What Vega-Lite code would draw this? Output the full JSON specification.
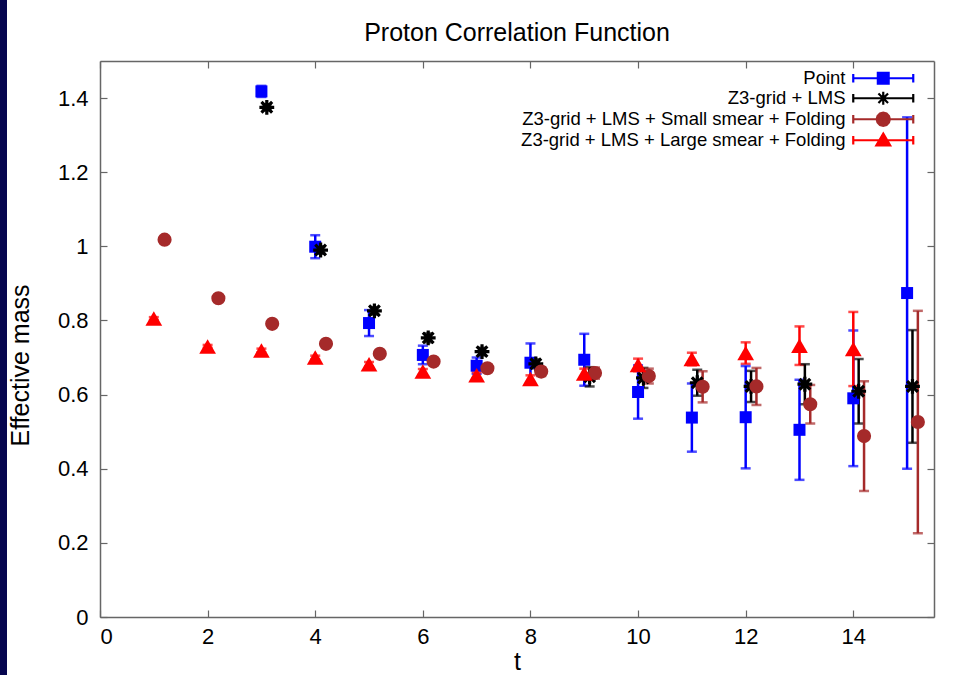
{
  "$schema": "https://vega.github.io/schema/vega-lite/v6.json",
  "width": 834,
  "height": 556,
  "autosize": {"type": "none"},
  "padding": {"left": 100, "top": 61, "right": 19, "bottom": 58},
  "background": "#06064f",
  "title": {"text": "Proton Correlation Function", "fontSize": 25, "font": "Liberation Sans", "fontWeight": "normal", "color": "black", "offset": 14, "anchor": "middle"},
  "data": {"values": [
    {"series": "Point", "t": 3, "m": 1.418, "e": 0.015},
    {"series": "Point", "t": 4, "m": 0.999, "e": 0.031},
    {"series": "Point", "t": 5, "m": 0.793, "e": 0.035},
    {"series": "Point", "t": 6, "m": 0.707, "e": 0.025},
    {"series": "Point", "t": 7, "m": 0.678, "e": 0.022},
    {"series": "Point", "t": 8, "m": 0.686, "e": 0.052},
    {"series": "Point", "t": 9, "m": 0.694, "e": 0.07},
    {"series": "Point", "t": 10, "m": 0.607, "e": 0.072},
    {"series": "Point", "t": 11, "m": 0.538, "e": 0.092},
    {"series": "Point", "t": 12, "m": 0.539, "e": 0.138},
    {"series": "Point", "t": 13, "m": 0.505, "e": 0.135},
    {"series": "Point", "t": 14, "m": 0.59, "e": 0.183},
    {"series": "Point", "t": 15, "m": 0.874, "e": 0.474},
    {"series": "Z3-grid + LMS", "t": 3.1, "m": 1.375, "e": 0.008},
    {"series": "Z3-grid + LMS", "t": 4.1, "m": 0.99, "e": 0.01},
    {"series": "Z3-grid + LMS", "t": 5.1, "m": 0.826, "e": 0.01},
    {"series": "Z3-grid + LMS", "t": 6.1, "m": 0.753, "e": 0.012},
    {"series": "Z3-grid + LMS", "t": 7.1, "m": 0.716, "e": 0.01},
    {"series": "Z3-grid + LMS", "t": 8.1, "m": 0.683, "e": 0.012},
    {"series": "Z3-grid + LMS", "t": 9.1, "m": 0.648, "e": 0.026},
    {"series": "Z3-grid + LMS", "t": 10.1, "m": 0.645, "e": 0.027},
    {"series": "Z3-grid + LMS", "t": 11.1, "m": 0.632, "e": 0.035},
    {"series": "Z3-grid + LMS", "t": 12.1, "m": 0.622, "e": 0.042},
    {"series": "Z3-grid + LMS", "t": 13.1, "m": 0.628, "e": 0.054},
    {"series": "Z3-grid + LMS", "t": 14.1, "m": 0.609, "e": 0.087},
    {"series": "Z3-grid + LMS", "t": 15.1, "m": 0.622, "e": 0.152},
    {"series": "Z3-grid + LMS + Small smear + Folding", "t": 1.2, "m": 1.018, "e": 0.005},
    {"series": "Z3-grid + LMS + Small smear + Folding", "t": 2.2, "m": 0.86, "e": 0.005},
    {"series": "Z3-grid + LMS + Small smear + Folding", "t": 3.2, "m": 0.791, "e": 0.005},
    {"series": "Z3-grid + LMS + Small smear + Folding", "t": 4.2, "m": 0.737, "e": 0.006},
    {"series": "Z3-grid + LMS + Small smear + Folding", "t": 5.2, "m": 0.71, "e": 0.007},
    {"series": "Z3-grid + LMS + Small smear + Folding", "t": 6.2, "m": 0.689, "e": 0.008},
    {"series": "Z3-grid + LMS + Small smear + Folding", "t": 7.2, "m": 0.671, "e": 0.01},
    {"series": "Z3-grid + LMS + Small smear + Folding", "t": 8.2, "m": 0.662, "e": 0.012},
    {"series": "Z3-grid + LMS + Small smear + Folding", "t": 9.2, "m": 0.658, "e": 0.015},
    {"series": "Z3-grid + LMS + Small smear + Folding", "t": 10.2, "m": 0.65, "e": 0.02},
    {"series": "Z3-grid + LMS + Small smear + Folding", "t": 11.2, "m": 0.621, "e": 0.042},
    {"series": "Z3-grid + LMS + Small smear + Folding", "t": 12.2, "m": 0.622, "e": 0.05},
    {"series": "Z3-grid + LMS + Small smear + Folding", "t": 13.2, "m": 0.574, "e": 0.052},
    {"series": "Z3-grid + LMS + Small smear + Folding", "t": 14.2, "m": 0.488, "e": 0.148},
    {"series": "Z3-grid + LMS + Small smear + Folding", "t": 15.2, "m": 0.526, "e": 0.3},
    {"series": "Z3-grid + LMS + Large smear + Folding", "t": 1, "m": 0.805, "e": 0.004},
    {"series": "Z3-grid + LMS + Large smear + Folding", "t": 2, "m": 0.73, "e": 0.004},
    {"series": "Z3-grid + LMS + Large smear + Folding", "t": 3, "m": 0.719, "e": 0.005},
    {"series": "Z3-grid + LMS + Large smear + Folding", "t": 4, "m": 0.7, "e": 0.005},
    {"series": "Z3-grid + LMS + Large smear + Folding", "t": 5, "m": 0.682, "e": 0.006},
    {"series": "Z3-grid + LMS + Large smear + Folding", "t": 6, "m": 0.662, "e": 0.007},
    {"series": "Z3-grid + LMS + Large smear + Folding", "t": 7, "m": 0.652, "e": 0.008},
    {"series": "Z3-grid + LMS + Large smear + Folding", "t": 8, "m": 0.642, "e": 0.01},
    {"series": "Z3-grid + LMS + Large smear + Folding", "t": 9, "m": 0.657, "e": 0.013},
    {"series": "Z3-grid + LMS + Large smear + Folding", "t": 10, "m": 0.68, "e": 0.017},
    {"series": "Z3-grid + LMS + Large smear + Folding", "t": 11, "m": 0.696, "e": 0.017},
    {"series": "Z3-grid + LMS + Large smear + Folding", "t": 12, "m": 0.712, "e": 0.029},
    {"series": "Z3-grid + LMS + Large smear + Folding", "t": 13, "m": 0.732, "e": 0.052},
    {"series": "Z3-grid + LMS + Large smear + Folding", "t": 14, "m": 0.723, "e": 0.1}
  ]},
  "layer": [
    {
      "mark": {"type": "errorbar", "ticks": {"size": 10}, "thickness": 2.5},
      "encoding": {
        "x": {"field": "t", "type": "quantitative", "scale": {"domain": [0, 15.5], "nice": false, "zero": false},
              "axis": {"orient": "bottom", "values": [0, 2, 4, 6, 8, 10, 12, 14], "tickSize": -7, "labelPadding": 16, "labelFontSize": 22, "title": "t", "titleFontSize": 25, "titleFontWeight": "normal", "titlePadding": 2}},
        "y": {"field": "m", "type": "quantitative", "scale": {"domain": [0, 1.5], "nice": false},
              "axis": {"orient": "left", "values": [0, 0.2, 0.4, 0.6, 0.8, 1, 1.2, 1.4], "format": "~g", "tickSize": -7, "labelPadding": 19, "labelFontSize": 22, "title": "Effective mass", "titleFontSize": 25, "titleFontWeight": "normal", "titlePadding": 24, "titleY": 304}},
        "yError": {"field": "e"},
        "color": {"field": "series", "type": "nominal",
                  "scale": {"domain": ["Point", "Z3-grid + LMS", "Z3-grid + LMS + Small smear + Folding", "Z3-grid + LMS + Large smear + Folding"], "range": ["#0000ff", "#000000", "#a52a2a", "#ff0000"]},
                  "legend": {
                    "title": null, "orient": "none", "legendX": 774, "legendY": 8, "labelAlign": "right", "labelOffset": -47,
                    "labelFontSize": 18.5, "labelLimit": 0, "symbolSize": 144, "rowPadding": -3.5,
                    "encode": {"symbols": {"update": {
                      "shape": {"signal": "datum.value === 'Point' ? 'M-5,0H5M-5,-0.7V0.7M5,-0.7V0.7M-0.9,-0.9H0.9V0.9H-0.9Z' : datum.value === 'Z3-grid + LMS' ? 'M-5,0H5M-5,-0.7V0.7M5,-0.7V0.7M-1.1,0H1.1M0,-1.1V1.1M-0.8,-0.8L0.8,0.8M-0.8,0.8L0.8,-0.8' : datum.value === 'Z3-grid + LMS + Small smear + Folding' ? 'M-5,0H5M-5,-0.7V0.7M5,-0.7V0.7M1.1,0L0.953,0.55L0.55,0.953L0,1.1L-0.55,0.953L-0.953,0.55L-1.1,0L-0.953,-0.55L-0.55,-0.953L0,-1.1L0.55,-0.953L0.953,-0.55Z' : 'M-5,0H5M-5,-0.7V0.7M5,-0.7V0.7M0,-1.1L1.15,0.85H-1.15Z'"},
                      "fill": {"signal": "scale('color', datum.value)"},
                      "stroke": {"signal": "scale('color', datum.value)"},
                      "strokeWidth": {"value": 2.2},
                      "size": {"value": 144},
                      "opacity": {"value": 1}
                    }}}
                  }}
      }
    },
    {
      "transform": [{"filter": "datum.series === 'Point'"}],
      "mark": {"type": "point", "shape": "square", "filled": true, "size": 144, "opacity": 1},
      "encoding": {
        "x": {"field": "t", "type": "quantitative", "axis": {"orient": "top", "values": [0, 2, 4, 6, 8, 10, 12, 14], "tickSize": -7, "labels": false, "title": null}},
        "y": {"field": "m", "type": "quantitative", "axis": {"orient": "right", "values": [0, 0.2, 0.4, 0.6, 0.8, 1, 1.2, 1.4], "tickSize": -7, "labels": false, "title": null}},
        "color": {"field": "series", "type": "nominal"}
      }
    },
    {
      "transform": [{"filter": "datum.series === 'Z3-grid + LMS'"}],
      "mark": {"type": "point", "shape": "M-1,0H1M0,-1V1M-0.72,-0.72L0.72,0.72M-0.72,0.72L0.72,-0.72", "filled": false, "size": 220, "strokeWidth": 3.2, "opacity": 1},
      "encoding": {
        "x": {"field": "t", "type": "quantitative", "axis": null},
        "y": {"field": "m", "type": "quantitative", "axis": null},
        "color": {"field": "series", "type": "nominal"}
      }
    },
    {
      "transform": [{"filter": "datum.series === 'Z3-grid + LMS + Small smear + Folding'"}],
      "mark": {"type": "point", "shape": "circle", "filled": true, "size": 200, "opacity": 1},
      "encoding": {
        "x": {"field": "t", "type": "quantitative", "axis": null},
        "y": {"field": "m", "type": "quantitative", "axis": null},
        "color": {"field": "series", "type": "nominal"}
      }
    },
    {
      "transform": [{"filter": "datum.series === 'Z3-grid + LMS + Large smear + Folding'"}],
      "mark": {"type": "point", "shape": "triangle-up", "filled": true, "size": 280, "opacity": 1},
      "encoding": {
        "x": {"field": "t", "type": "quantitative", "axis": null},
        "y": {"field": "m", "type": "quantitative", "axis": null},
        "color": {"field": "series", "type": "nominal"}
      }
    }
  ],
  "resolve": {"axis": {"x": "independent", "y": "independent"}},
  "config": {
    "font": "Liberation Sans",
    "view": {"fill": "white", "stroke": "white", "strokeWidth": 186},
    "axis": {"grid": false, "domainColor": "#666666", "domainWidth": 1.5, "tickColor": "#666666", "tickWidth": 1.2, "labelColor": "black", "titleColor": "black", "labelFont": "Liberation Sans", "titleFont": "Liberation Sans"},
    "legend": {"labelColor": "black", "labelFont": "Liberation Sans"}
  }
}
